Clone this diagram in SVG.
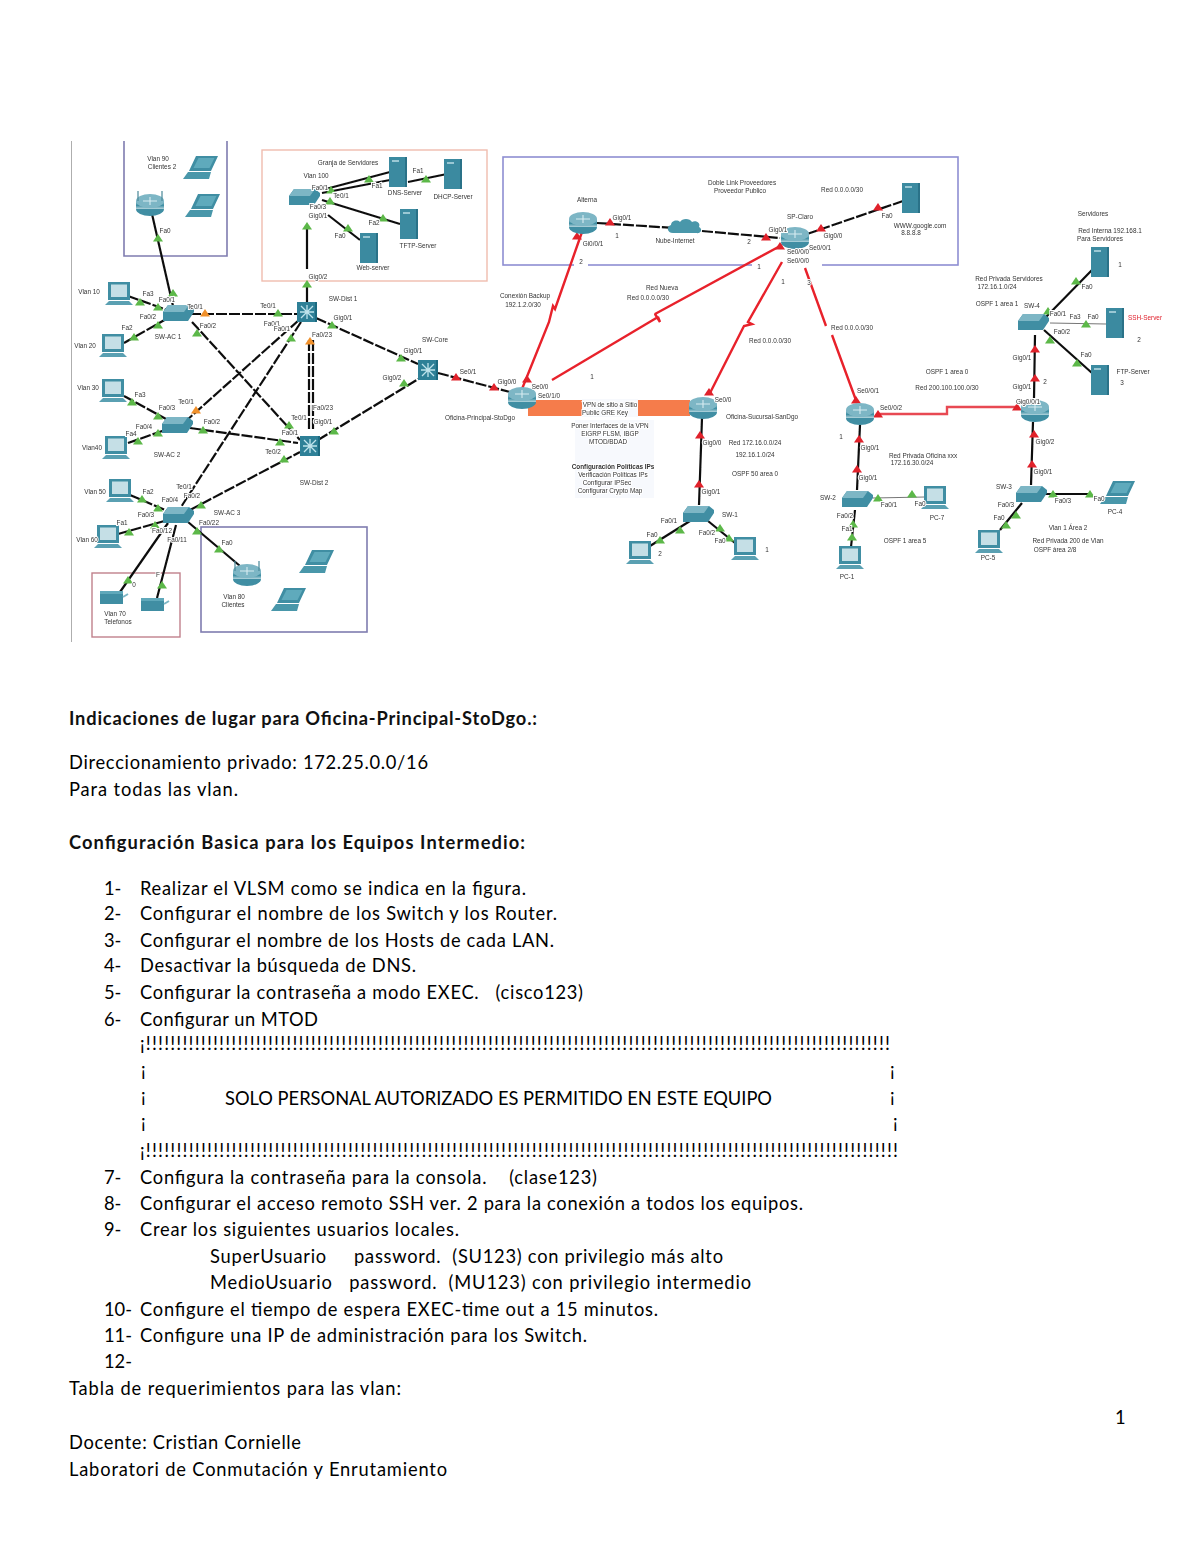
<svg xmlns="http://www.w3.org/2000/svg" width="1200" height="1553" viewBox="0 0 1200 1553">
<style>
text{font-family:"Liberation Sans",Arial,sans-serif}
.s,.sd{font-size:6.4px;fill:#333;text-anchor:middle;paint-order:stroke;stroke:#fff;stroke-width:2px}
.sd{font-weight:bold}
.b{font-family:Lato,"Liberation Sans",sans-serif;font-size:18.3px;fill:#000;white-space:pre}
.h{font-family:Lato,"Liberation Sans",sans-serif;font-size:18.3px;fill:#111;font-weight:700;white-space:pre}
.k{fill:none;stroke:#111;stroke-width:2.2}
.d{fill:none;stroke:#111;stroke-width:2.2;stroke-dasharray:11 2}
.gy{fill:none;stroke:#777;stroke-width:1.2}
.r{fill:none;stroke:#e8202c;stroke-width:2.4}
.tg{fill:#5cb848}.to{fill:#f0902c}.tr{fill:#e0202c}
.boxb{fill:none;stroke:#7f7cb0;stroke-width:1.6}
.boxp{fill:none;stroke:#f0bcae;stroke-width:1.4}
.boxm{fill:none;stroke:#c0808c;stroke-width:1.4}
.boxt{fill:none;stroke:#8e8ed2;stroke-width:1.6}
</style>
<defs>
<filter id="soft" x="0" y="0" width="100%" height="100%"><feGaussianBlur stdDeviation="0.6"/></filter>
<linearGradient id="rg" x1="0" y1="0" x2="0" y2="1"><stop offset="0" stop-color="#8fc4d0"/><stop offset="0.55" stop-color="#3f8ea3"/><stop offset="1" stop-color="#b5d6de"/></linearGradient>
<polygon id="t" points="0,-4 5,3.400 -5,3.400"/>
<g id="pc"><rect x="-11" y="-12" width="22" height="18" fill="#3f8ea3"/><rect x="-8" y="-9.500" width="16" height="12.500" fill="#c5dfe6"/><path d="M-10 7h20l4 4h-28z" fill="#5aa0b2"/></g>
<g id="lap"><path d="M-7 -12h22l-7 15h-22z" fill="#3f8ea3"/><path d="M-4.500 -10h16l-5 10h-16z" fill="#5faabc"/><path d="M-15 4h23l-2 7h-26z" fill="#4a97aa"/></g>
<g id="srv"><rect x="-9" y="-15" width="18" height="30" fill="#3a8aa0"/><rect x="-6" y="-12" width="7" height="2" fill="#9ac8d4"/><rect x="7" y="-15" width="2" height="30" fill="#2a7288"/></g>
<g id="rt"><ellipse cx="0" cy="4" rx="14" ry="7" fill="#3f8ea3"/><rect x="-14" y="-4" width="28" height="8" fill="url(#rg)"/><ellipse cx="0" cy="-4" rx="14" ry="7" fill="#7db6c5"/><path d="M-7 -4h14M0 -8v8" stroke="#d8ecf1" stroke-width="1.1"/></g>
<g id="wr"><use href="#rt"/><path d="M-12 -4v-10M12 -4v-10" stroke="#4a8898" stroke-width="1.200"/></g>
<g id="sw"><path d="M-15 -2l5 -7h21l5 4v3l-6 9h-25z" fill="#3f8ea3"/><path d="M-15 -2l5 -7h21l-5 7z" fill="#7db6c5"/></g>
<g id="ml"><rect x="-10" y="-10" width="20" height="20" fill="#2f8097"/><path d="M-6 -6l12 12M6 -6l-12 12M-7 0h14M0 -7v14" stroke="#bfe3ec" stroke-width="1.300"/><rect x="8" y="-10" width="2" height="20" fill="#1f6a80"/></g>
<g id="pr"><rect x="-12" y="-7" width="23" height="13" fill="#3f8ea3"/><path d="M11 -1l5 -3" stroke="#7db6c5" stroke-width="2"/><rect x="-12" y="-7" width="23" height="3" fill="#5fa8ba"/></g>
<path id="cl" d="M-14 5c-6 0 -7 -7 -2 -8c0 -4 6 -6 9 -3c2 -4 10 -4 12 0c4 -2 9 1 7 5c4 2 2 7 -3 6z" fill="#4a97aa"/>
</defs>

<g id="diagram" filter="url(#soft)">
<g id="frames">
<path class="gy" d="M71 141V642" stroke-width="1.500"/>
<path class="boxb" d="M124 141V256H227V141"/>
<rect class="boxp" x="262" y="150" width="225" height="131"/>
<rect class="boxt" x="503" y="157" width="455" height="108"/>
<rect x="574" y="262" width="14" height="6" fill="#fff"/><rect x="752" y="262" width="70" height="6" fill="#fff"/>
<rect class="boxb" x="201" y="527" width="166" height="105"/>
<rect class="boxm" x="92" y="573" width="88" height="64"/>
<rect x="528" y="400" width="54" height="16" fill="#f57c4c"/>
<rect x="638" y="400" width="52" height="16" fill="#f57c4c"/>
<rect x="575" y="420" width="79" height="78" fill="#f7f9fd"/>
<rect x="582" y="399" width="56" height="18" fill="#f7f9fd"/>
</g>

<g id="connectors">
<path class="k" d="M152 214L173 306"/>
<path class="d" d="M128 296L170 311M124 343L168 318M190 314H298M192 322L300 440M299 320L187 420M301 322L181 507M309 340V430M313 340V430M316 318L418 364M318 440L420 378M438 373L510 392M190 428L298 443M190 510L300 452M124 396L168 420M128 443L165 430M130 495L170 512M118 534L168 520"/>
<path class="k" d="M168 523L120 592M176 525L157 598M188 522L240 566"/>
<path class="k" d="M307 226V269M307 285V302" stroke-width="1.500"/>
<path class="k" d="M322 190L390 172M322 193L390 180M408 182L447 174M322 200L400 224M328 215L360 240"/>
<path class="r" d="M582 232L555 309L553 306L549 322L522 389"/>
<path class="r" d="M552 380L658 317L660 322L655 314L782 245" stroke-linejoin="bevel"/>
<path class="r" d="M782 262L748 322L752 324L744 326L710 393"/>
<path class="r" d="M805 268L826 326M832 335L857 403"/>
<path class="d" d="M597 223L675 228M702 231L780 238M807 234L903 201"/>
<path class="r" d="M878 414H947V407H1017" style="stroke:#e84a52"/>
<path class="k" d="M702 418L699 505M690 521L650 546M708 521L735 543M860 425L857 490M855 510L851 547M1034 398L1035 335M1033 422L1031 485M1045 318L1092 270M1044 330L1092 373M1022 503L1000 530M1045 494H1092"/>
<path class="gy" d="M873 498L925 497M1050 323L1106 324"/>
</g>

<g id="link-markers">
<g class="tg"><use href="#t" x="158" y="238"/><use href="#t" x="173" y="293"/><use href="#t" x="140" y="302"/><use href="#t" x="158" y="307"/><use href="#t" x="158" y="325"/><use href="#t" x="134" y="337"/><use href="#t" x="278" y="313"/><use href="#t" x="197" y="333"/><use href="#t" x="289" y="425"/><use href="#t" x="291" y="338"/><use href="#t" x="332" y="325"/><use href="#t" x="401" y="358"/><use href="#t" x="334" y="431"/><use href="#t" x="404" y="383"/><use href="#t" x="203" y="430"/><use href="#t" x="280" y="442"/><use href="#t" x="201" y="505"/><use href="#t" x="284" y="459"/><use href="#t" x="132" y="402"/><use href="#t" x="158" y="416"/><use href="#t" x="138" y="441"/><use href="#t" x="158" y="433"/><use href="#t" x="142" y="499"/><use href="#t" x="158" y="508"/><use href="#t" x="129" y="532"/><use href="#t" x="155" y="525"/><use href="#t" x="128" y="580"/><use href="#t" x="162" y="585"/><use href="#t" x="197" y="531"/><use href="#t" x="219" y="549"/><use href="#t" x="307" y="226"/><use href="#t" x="307" y="284"/><use href="#t" x="331" y="190"/><use href="#t" x="369" y="179"/><use href="#t" x="426" y="179"/><use href="#t" x="330" y="201"/><use href="#t" x="383" y="218"/><use href="#t" x="348" y="228"/><use href="#t" x="680" y="530"/><use href="#t" x="660" y="540"/><use href="#t" x="720" y="528"/><use href="#t" x="729" y="538"/><use href="#t" x="878" y="498"/><use href="#t" x="912" y="494"/><use href="#t" x="853" y="524"/><use href="#t" x="852" y="537"/><use href="#t" x="1076" y="281"/><use href="#t" x="1048" y="311"/><use href="#t" x="1086" y="324"/><use href="#t" x="1050" y="340"/><use href="#t" x="1077" y="363"/><use href="#t" x="1016" y="515"/><use href="#t" x="1006" y="525"/><use href="#t" x="1053" y="494"/><use href="#t" x="1090" y="494"/></g>
<g class="to"><use href="#t" x="205" y="313"/><use href="#t" x="196" y="410"/><use href="#t" x="310" y="341"/></g>
<g class="tr"><use href="#t" x="456" y="377"/><use href="#t" x="494" y="387"/><use href="#t" x="577" y="236"/><use href="#t" x="527" y="379"/><use href="#t" x="610" y="222"/><use href="#t" x="766" y="237"/><use href="#t" x="821" y="228"/><use href="#t" x="878" y="207"/><use href="#t" x="780" y="246"/><use href="#t" x="709" y="392"/><use href="#t" x="856" y="400"/><use href="#t" x="878" y="414"/><use href="#t" x="1017" y="407"/><use href="#t" x="700" y="435"/><use href="#t" x="699" y="484"/><use href="#t" x="859" y="439"/><use href="#t" x="857" y="469"/><use href="#t" x="1035" y="349"/><use href="#t" x="1035" y="378"/><use href="#t" x="1034" y="434"/><use href="#t" x="1032" y="464"/></g>
</g>

<g id="wr-top"><use href="#wr" x="150" y="205"/></g>
<g id="lap-1"><use href="#lap" x="203" y="168"/></g>
<g id="lap-2"><use href="#lap" x="205" y="206"/></g>
<g id="pc-vlan10"><use href="#pc" x="119" y="294"/></g>
<g id="pc-vlan20"><use href="#pc" x="113" y="346"/></g>
<g id="sw-ac1"><use href="#sw" x="178" y="314"/></g>
<g id="sw-dist1"><use href="#ml" x="307" y="312"/></g>
<g id="sw-core"><use href="#ml" x="428" y="370"/></g>
<g id="sw-dist2"><use href="#ml" x="310" y="446"/></g>
<g id="sw-ac2"><use href="#sw" x="177" y="426"/></g>
<g id="sw-ac3"><use href="#sw" x="178" y="516"/></g>
<g id="pc-vlan30"><use href="#pc" x="113" y="391"/></g>
<g id="pc-vlan40"><use href="#pc" x="116" y="448"/></g>
<g id="pc-vlan50"><use href="#pc" x="120" y="491"/></g>
<g id="pc-vlan60"><use href="#pc" x="108" y="537"/></g>
<g id="printer-1"><use href="#pr" x="112" y="598"/></g>
<g id="printer-2"><use href="#pr" x="153" y="605"/></g>
<g id="wr-bottom"><use href="#wr" x="247" y="575"/></g>
<g id="lap-3"><use href="#lap" x="319" y="562"/></g>
<g id="lap-4"><use href="#lap" x="291" y="600"/></g>
<g id="sw-granja"><use href="#sw" x="304" y="198"/></g>
<g id="srv-dns"><use href="#srv" x="398" y="172"/></g>
<g id="srv-dhcp"><use href="#srv" x="453" y="174"/></g>
<g id="srv-tftp"><use href="#srv" x="409" y="224"/></g>
<g id="srv-web"><use href="#srv" x="369" y="248"/></g>
<g id="rt-alterna"><use href="#rt" x="583" y="223"/></g>
<g id="cloud"><use href="#cl" x="687" y="228"/></g>
<g id="rt-sp"><use href="#rt" x="795" y="238"/></g>
<g id="srv-www"><use href="#srv" x="911" y="198"/></g>
<g id="rt-oficina"><use href="#rt" x="522" y="398"/></g>
<g id="rt-sucursal"><use href="#rt" x="703" y="408"/></g>
<g id="sw-1"><use href="#sw" x="698" y="515"/></g>
<g id="pc-s1"><use href="#pc" x="640" y="553"/></g>
<g id="pc-s2"><use href="#pc" x="745" y="549"/></g>
<g id="rt-r3"><use href="#rt" x="860" y="414"/></g>
<g id="rt-r4"><use href="#rt" x="1035" y="411"/></g>
<g id="sw-2"><use href="#sw" x="857" y="500"/></g>
<g id="pc-7"><use href="#pc" x="935" y="498"/></g>
<g id="pc-1"><use href="#pc" x="850" y="558"/></g>
<g id="sw-srv"><use href="#sw" x="1033" y="323"/></g>
<g id="srv-a"><use href="#srv" x="1100" y="262"/></g>
<g id="srv-ssh"><use href="#srv" x="1115" y="323"/></g>
<g id="srv-ftp"><use href="#srv" x="1100" y="380"/></g>
<g id="sw-3"><use href="#sw" x="1031" y="495"/></g>
<g id="pc-5"><use href="#pc" x="989" y="542"/></g>
<g id="lap-pc4"><use href="#lap" x="1120" y="493"/></g>

<g id="labels">
<text class="s" x="158" y="161">Vlan 90</text><text class="s" x="162" y="169">Clientes 2</text><text class="s" x="165" y="233">Fa0</text>
<text class="s" x="348" y="165">Granja de Servidores</text><text class="s" x="316" y="178">Vlan 100</text><text class="s" x="320" y="190">Fa0/1</text><text class="s" x="341" y="198">Te0/1</text><text class="s" x="418" y="173">Fa1</text><text class="s" x="377" y="188">Fa1</text><text class="s" x="405" y="195">DNS-Server</text><text class="s" x="453" y="199">DHCP-Server</text><text class="s" x="318" y="209">Fa0/3</text><text class="s" x="318" y="218">Gig0/1</text><text class="s" x="340" y="238">Fa0</text><text class="s" x="374" y="225">Fa2</text><text class="s" x="418" y="248">TFTP-Server</text><text class="s" x="373" y="270">Web-server</text><text class="s" x="318" y="279">Gig0/2</text>
<text class="s" x="343" y="301">SW-Dist 1</text><text class="s" x="89" y="294">Vlan 10</text><text class="s" x="148" y="296">Fa3</text><text class="s" x="167" y="302">Fa0/1</text><text class="s" x="195" y="309">Te0/1</text><text class="s" x="148" y="319">Fa0/2</text><text class="s" x="127" y="330">Fa2</text><text class="s" x="208" y="328">Fa0/2</text><text class="s" x="168" y="339">SW-AC 1</text><text class="s" x="85" y="348">Vlan 20</text><text class="s" x="268" y="308">Te0/1</text><text class="s" x="272" y="326">Fa0/1</text><text class="s" x="282" y="331">Fa0/1</text><text class="s" x="322" y="337">Fa0/23</text><text class="s" x="343" y="320">Gig0/1</text><text class="s" x="435" y="342">SW-Core</text><text class="s" x="413" y="353">Gig0/1</text><text class="s" x="392" y="380">Gig0/2</text><text class="s" x="468" y="374">Se0/1</text>
<text class="s" x="88" y="390">Vlan 30</text><text class="s" x="140" y="397">Fa3</text><text class="s" x="167" y="410">Fa0/3</text><text class="s" x="186" y="404">Te0/1</text><text class="s" x="144" y="429">Fa0/4</text><text class="s" x="131" y="436">Fa4</text><text class="s" x="212" y="424">Fa0/2</text><text class="s" x="92" y="450">Vlan40</text><text class="s" x="167" y="457">SW-AC 2</text><text class="s" x="323" y="410">Fa0/23</text><text class="s" x="299" y="420">Te0/1</text><text class="s" x="323" y="424">Gig0/1</text><text class="s" x="290" y="435">Fa0/1</text><text class="s" x="273" y="454">Te0/2</text><text class="s" x="314" y="485">SW-Dist 2</text><text class="s" x="184" y="489">Te0/1</text><text class="s" x="192" y="498">Fa0/2</text><text class="s" x="95" y="494">Vlan 50</text><text class="s" x="148" y="494">Fa2</text><text class="s" x="170" y="502">Fa0/4</text><text class="s" x="227" y="515">SW-AC 3</text><text class="s" x="146" y="517">Fa0/3</text><text class="s" x="122" y="525">Fa1</text><text class="s" x="209" y="525">Fa0/22</text><text class="s" x="162" y="533">Fa0/12</text><text class="s" x="177" y="542">Fa0/11</text><text class="s" x="87" y="542">Vlan 60</text><text class="s" x="227" y="545">Fa0</text><text class="s" x="134" y="587">0</text><text class="s" x="158" y="577">F</text><text class="s" x="115" y="616">Vlan 70</text><text class="s" x="118" y="624">Telefonos</text><text class="s" x="234" y="599">Vlan 80</text><text class="s" x="233" y="607">Clientes</text><text class="s" x="480" y="420">Oficina-Principal-StoDgo</text>
<text class="s" x="587" y="202">Alterna</text><text class="s" x="622" y="220">Gig0/1</text><text class="s" x="617" y="238">1</text><text class="s" x="593" y="246">Gi0/0/1</text><text class="s" x="581" y="264">2</text><text class="s" x="675" y="243">Nube-Internet</text><text class="s" x="525" y="298">Conexión Backup</text><text class="s" x="523" y="307">192.1.2.0/30</text><text class="s" x="742" y="185">Doble Link Proveedores</text><text class="s" x="740" y="193">Proveedor Publico</text><text class="s" x="842" y="192">Red 0.0.0.0/30</text><text class="s" x="800" y="219">SP-Claro</text><text class="s" x="778" y="232">Gig0/1</text><text class="s" x="749" y="244">2</text><text class="s" x="833" y="238">Gig0/0</text><text class="s" x="887" y="218">Fa0</text><text class="s" x="920" y="228">WWW.google.com</text><text class="s" x="911" y="235">8.8.8.8</text><text class="s" x="798" y="254">Se0/0/0</text><text class="s" x="820" y="250">Se0/0/1</text><text class="s" x="798" y="263">Se0/0/0</text><text class="s" x="759" y="269">1</text><text class="s" x="783" y="284">1</text><text class="s" x="809" y="285">3</text><text class="s" x="662" y="290">Red Nueva</text><text class="s" x="648" y="300">Red 0.0.0.0/30</text><text class="s" x="770" y="343">Red 0.0.0.0/30</text><text class="s" x="852" y="330">Red 0.0.0.0/30</text><text class="s" x="592" y="379">1</text><text class="s" x="507" y="384">Gig0/0</text><text class="s" x="540" y="389">Se0/0</text><text class="s" x="549" y="398">Se0/1/0</text><text class="s" x="723" y="402">Se0/0</text>
<text class="s" x="610" y="407">VPN de sitio a Sitio</text><text class="s" x="605" y="415">Public GRE Key</text><text class="s" x="610" y="428">Poner Interfaces de la VPN</text><text class="s" x="610" y="436">EIGRP FLSM, IBGP</text><text class="s" x="608" y="444">MTOD/BDAD</text><text class="sd" x="613" y="469">Configuración Políticas IPs</text><text class="s" x="613" y="477">Verificación Políticas IPs</text><text class="s" x="607" y="485">Configurar IPSec</text><text class="s" x="610" y="493">Configurar Crypto Map</text>
<text class="s" x="762" y="419">Oficina-Sucursal-SanDgo</text><text class="s" x="712" y="445">Gig0/0</text><text class="s" x="755" y="445">Red 172.16.0.0/24</text><text class="s" x="755" y="457">192.16.1.0/24</text><text class="s" x="755" y="476">OSPF 50 area 0</text><text class="s" x="711" y="494">Gig0/1</text><text class="s" x="730" y="517">SW-1</text><text class="s" x="669" y="523">Fa0/1</text><text class="s" x="652" y="537">Fa0</text><text class="s" x="707" y="535">Fa0/2</text><text class="s" x="720" y="543">Fa0</text><text class="s" x="660" y="556">2</text><text class="s" x="767" y="552">1</text>
<text class="s" x="1093" y="216">Servidores</text><text class="s" x="1110" y="233">Red Interna 192.168.1</text><text class="s" x="1100" y="241">Para Servidores</text><text class="s" x="1087" y="289">Fa0</text><text class="s" x="1120" y="267">1</text><text class="s" x="1009" y="281">Red Privada Servidores</text><text class="s" x="997" y="289">172.16.1.0/24</text><text class="s" x="997" y="306">OSPF 1 area 1</text><text class="s" x="1032" y="308">SW-4</text><text class="s" x="1058" y="316">Fa0/1</text><text class="s" x="1075" y="319">Fa3</text><text class="s" x="1093" y="319">Fa0</text><text class="s" x="1145" y="320" style="fill:#e0202c">SSH-Server</text><text class="s" x="1062" y="334">Fa0/2</text><text class="s" x="1139" y="342">2</text><text class="s" x="1086" y="357">Fa0</text><text class="s" x="1133" y="374">FTP-Server</text><text class="s" x="1122" y="385">3</text><text class="s" x="1022" y="360">Gig0/1</text><text class="s" x="1022" y="389">Gig0/1</text><text class="s" x="1045" y="384">2</text><text class="s" x="1028" y="404">Gig0/0/1</text><text class="s" x="1045" y="444">Gig0/2</text><text class="s" x="1043" y="474">Gig0/1</text>
<text class="s" x="947" y="374">OSPF 1 area 0</text><text class="s" x="947" y="390">Red 200.100.100.0/30</text><text class="s" x="868" y="393">Se0/0/1</text><text class="s" x="891" y="410">Se0/0/2</text><text class="s" x="841" y="439">1</text><text class="s" x="870" y="450">Gig0/1</text><text class="s" x="868" y="480">Gig0/1</text><text class="s" x="923" y="458">Red Privada Oficina xxx</text><text class="s" x="912" y="465">172.16.30.0/24</text><text class="s" x="828" y="500">SW-2</text><text class="s" x="889" y="507">Fa0/1</text><text class="s" x="920" y="506">Fa0</text><text class="s" x="937" y="520">PC-7</text><text class="s" x="845" y="518">Fa0/2</text><text class="s" x="847" y="531">Fa1</text><text class="s" x="905" y="543">OSPF 1 area 5</text><text class="s" x="847" y="579">PC-1</text><text class="s" x="1004" y="489">SW-3</text><text class="s" x="1006" y="507">Fa0/3</text><text class="s" x="999" y="520">Fa0</text><text class="s" x="1063" y="503">Fa0/3</text><text class="s" x="1099" y="501">Fa0</text><text class="s" x="1115" y="514">PC-4</text><text class="s" x="988" y="560">PC-5</text><text class="s" x="1068" y="530">Vlan 1 Área 2</text><text class="s" x="1068" y="543">Red Privada 200 de Vlan</text><text class="s" x="1055" y="552">OSPF área 2/8</text>
</g>
</g>

<g id="document">
<text class="h" x="69" y="725" textLength="468">Indicaciones de lugar para Oficina-Principal-StoDgo.:</text>
<text class="b" x="69" y="769" textLength="359">Direccionamiento privado: 172.25.0.0/16</text>
<text class="b" x="69" y="796" textLength="169">Para todas las vlan.</text>
<text class="h" x="69" y="849" textLength="456">Configuración Basica para los Equipos Intermedio:</text>
<text class="b" x="104" y="895">1-</text><text class="b" x="140" y="895" textLength="386">Realizar el VLSM como se indica en la figura.</text>
<text class="b" x="104" y="920">2-</text><text class="b" x="140" y="920" textLength="417">Configurar el nombre de los Switch y los Router.</text>
<text class="b" x="104" y="947">3-</text><text class="b" x="140" y="947" textLength="414">Configurar el nombre de los Hosts de cada LAN.</text>
<text class="b" x="104" y="972">4-</text><text class="b" x="140" y="972" textLength="276">Desactivar la búsqueda de DNS.</text>
<text class="b" x="104" y="999">5-</text><text class="b" x="140" y="999" textLength="443">Configurar la contraseña a modo EXEC.   (cisco123)</text>
<text class="b" x="104" y="1026">6-</text><text class="b" x="140" y="1026" textLength="178">Configurar un MTOD</text>
<text class="b" x="140" y="1050" textLength="750">¡!!!!!!!!!!!!!!!!!!!!!!!!!!!!!!!!!!!!!!!!!!!!!!!!!!!!!!!!!!!!!!!!!!!!!!!!!!!!!!!!!!!!!!!!!!!!!!!!!!!!!!!!!!!!!!!!!!!!!!!!!!</text>
<text class="b" x="141" y="1076">¡</text><text class="b" x="890" y="1076">¡</text>
<text class="b" x="141" y="1102">¡</text><text class="b" x="225" y="1105" textLength="547">SOLO PERSONAL AUTORIZADO ES PERMITIDO EN ESTE EQUIPO</text><text class="b" x="890" y="1102">¡</text>
<text class="b" x="141" y="1128">¡</text><text class="b" x="893" y="1128">¡</text>
<text class="b" x="140" y="1157" textLength="758">¡!!!!!!!!!!!!!!!!!!!!!!!!!!!!!!!!!!!!!!!!!!!!!!!!!!!!!!!!!!!!!!!!!!!!!!!!!!!!!!!!!!!!!!!!!!!!!!!!!!!!!!!!!!!!!!!!!!!!!!!!!!!</text>
<text class="b" x="104" y="1184">7-</text><text class="b" x="140" y="1184" textLength="457">Configura la contraseña para la consola.    (clase123)</text>
<text class="b" x="104" y="1210">8-</text><text class="b" x="140" y="1210" textLength="663">Configurar el acceso remoto SSH ver. 2 para la conexión a todos los equipos.</text>
<text class="b" x="104" y="1236">9-</text><text class="b" x="140" y="1236" textLength="319">Crear los siguientes usuarios locales.</text>
<text class="b" x="210" y="1263" textLength="513">SuperUsuario     password.  (SU123) con privilegio más alto</text>
<text class="b" x="210" y="1289" textLength="541">MedioUsuario   password.  (MU123) con privilegio intermedio</text>
<text class="b" x="104" y="1316">10-</text><text class="b" x="140" y="1316" textLength="518">Configure el tiempo de espera EXEC-time out a 15 minutos.</text>
<text class="b" x="104" y="1342">11-</text><text class="b" x="140" y="1342" textLength="447">Configure una IP de administración para los Switch.</text>
<text class="b" x="104" y="1368">12-</text>
<text class="b" x="69" y="1395" textLength="332">Tabla de requerimientos para las vlan:</text>
<text class="b" x="1115" y="1424">1</text>
<text class="b" x="69" y="1449" textLength="232">Docente: Cristian Cornielle</text>
<text class="b" x="69" y="1476" textLength="378">Laboratori de Conmutación y Enrutamiento</text>
</g>
</svg>
